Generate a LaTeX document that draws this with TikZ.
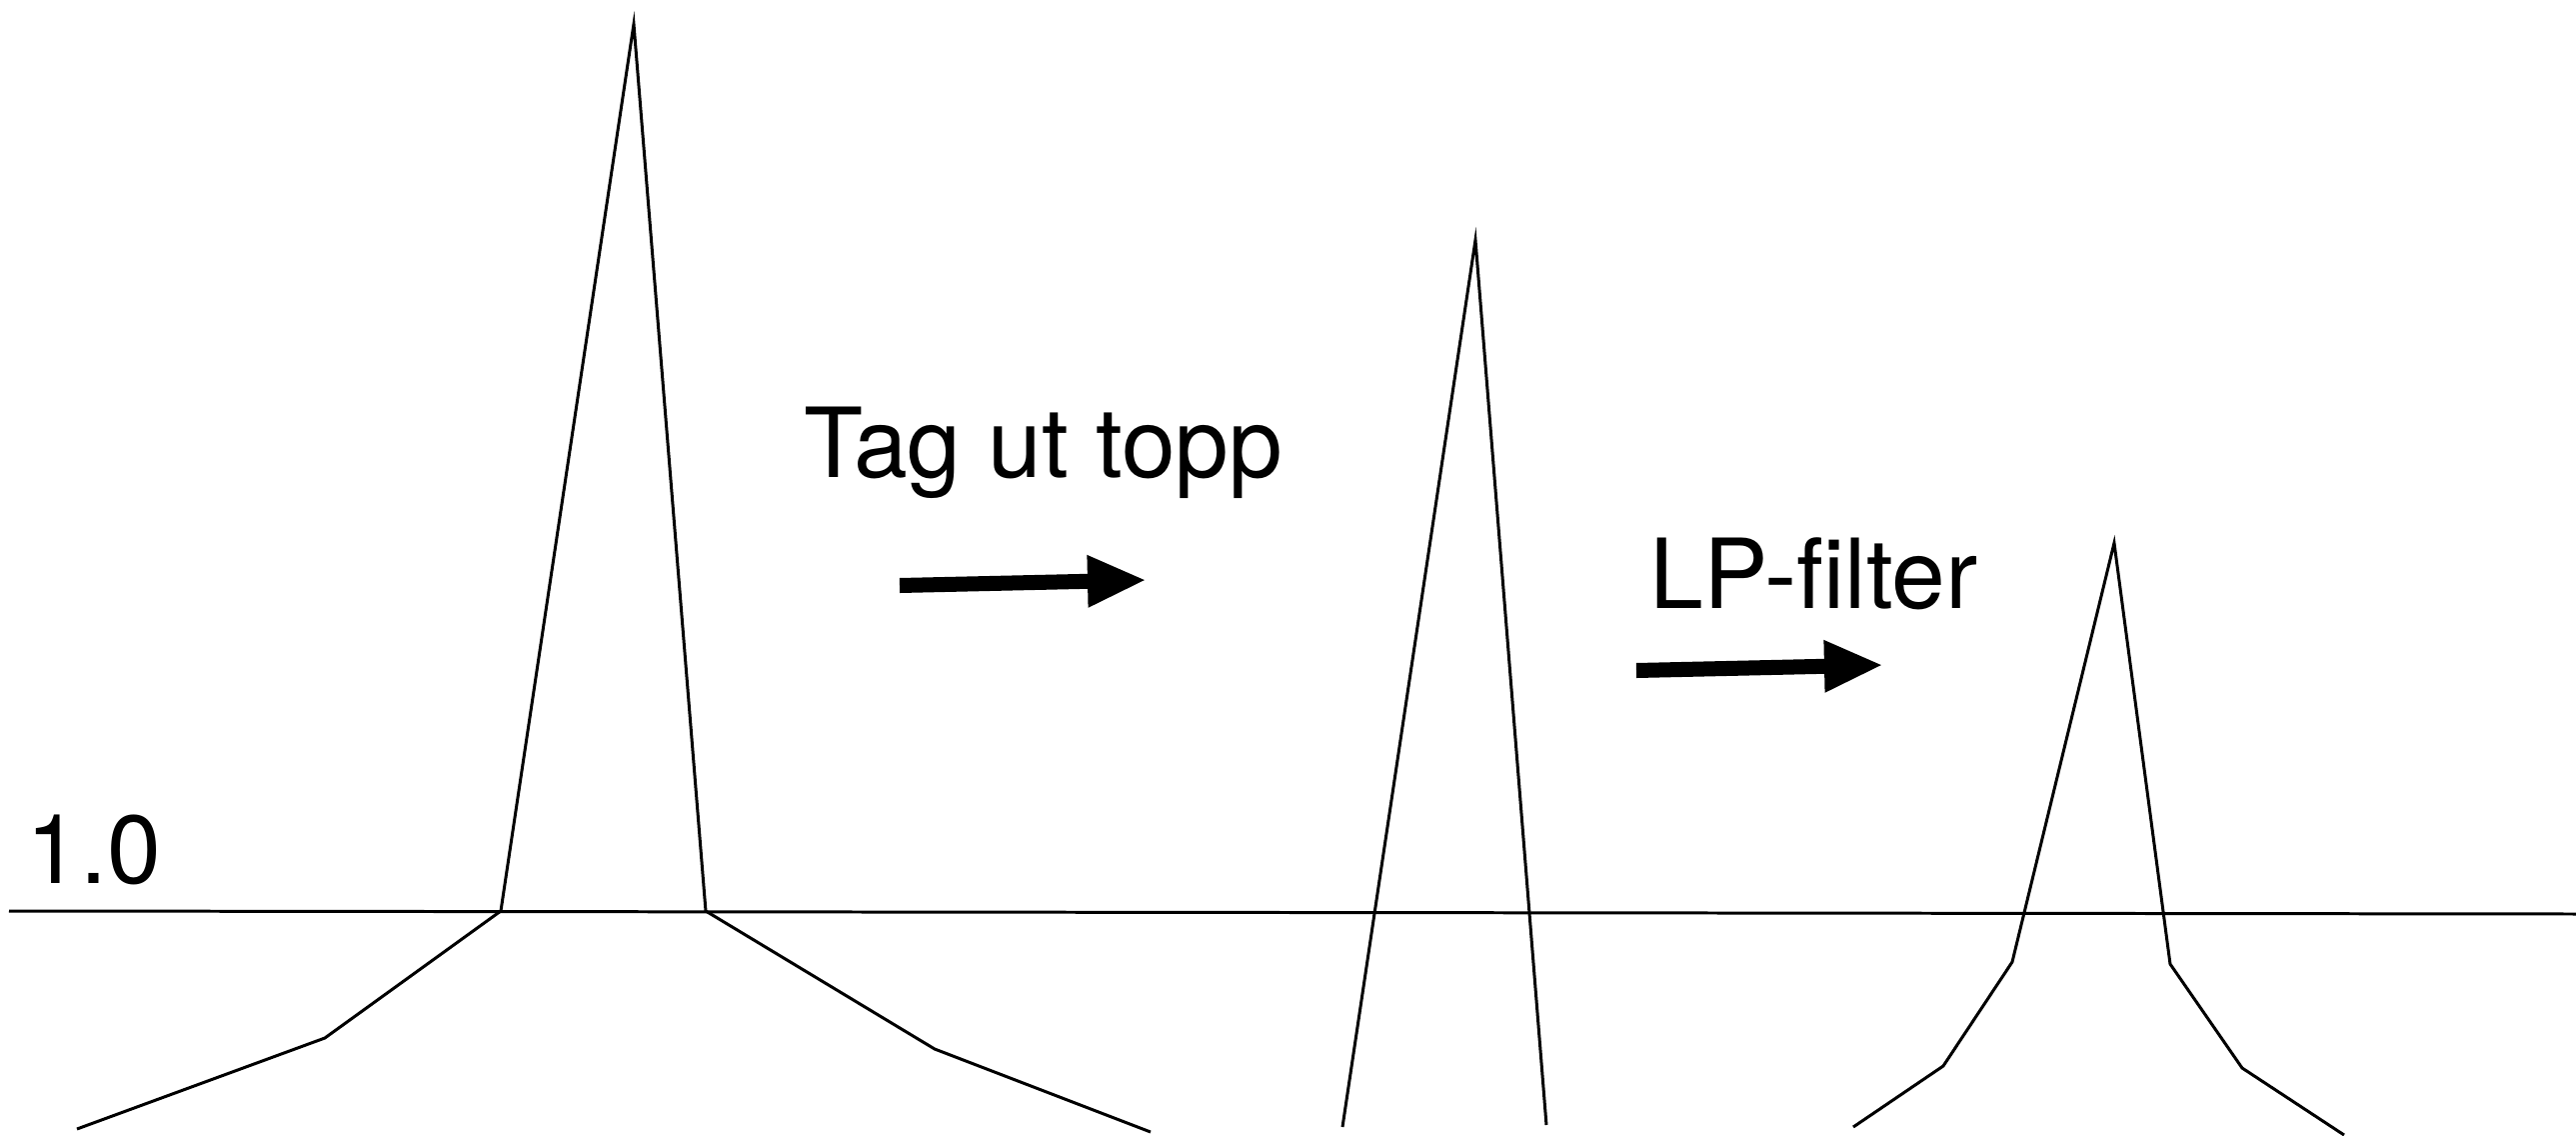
\documentclass[tikz,border=0pt]{standalone}
\usepackage{fontspec}
\setmainfont{TeX Gyre Heros}
\usetikzlibrary{arrows.meta}
\begin{document}
\begin{tikzpicture}[x=0.01cm,y=-0.01cm,
  curve/.style={line width=0.85pt, line join=miter, miter limit=20},
  bigarrow/.style={line width=0.15cm, -{Triangle[length=0.59cm,width=0.48cm]}},
  lbl/.style={anchor=base west, inner sep=0pt, font=\fontsize{27.5}{33}\selectfont}]
\useasboundingbox (0,0) rectangle (2577,1136);

% baseline (level 1.0)
\coordinate (b0) at (9,911);
\coordinate (b1) at (2577,914);
\draw[curve] (b0) -- (b1);
\node[lbl] (one) at (26,883) {1.0};

% peak 1 (original)
\coordinate (p1a) at (77,1129);
\coordinate (p1b) at (325,1038);
\coordinate (p1c) at (501,911);
\coordinate (p1top) at (634,24);
\coordinate (p1d) at (706,911);
\coordinate (p1e) at (935,1049);
\coordinate (p1f) at (1151,1132);
\draw[curve] (p1a) -- (p1b) -- (p1c) -- (p1top) -- (p1d) -- (p1e) -- (p1f);

% arrow 1 and label
\node[lbl] (tag) at (804,477) {Tag ut topp};
\coordinate (a1s) at (900,585.5);
\coordinate (a1e) at (1147,580);
\draw[bigarrow] (a1s) -- (a1e);

% peak 2 (tip removed)
\coordinate (p2a) at (1343,1127);
\coordinate (p2top) at (1476,240);
\coordinate (p2b) at (1547,1125);
\draw[curve] (p2a) -- (p2top) -- (p2b);

% arrow 2 and label
\node[lbl] (lp) at (1650,608) {LP-filter};
\coordinate (a2s) at (1637,670.5);
\coordinate (a2e) at (1884,665);
\draw[bigarrow] (a2s) -- (a2e);

% peak 3 (low-pass filtered)
\coordinate (p3a) at (1854,1127);
\coordinate (p3b) at (1944,1066);
\coordinate (p3c) at (2013,962);
\coordinate (p3top) at (2115,543);
\coordinate (p3d) at (2171,964);
\coordinate (p3e) at (2243,1068);
\coordinate (p3f) at (2345,1135);
\draw[curve] (p3a) -- (p3b) -- (p3c) -- (p3top) -- (p3d) -- (p3e) -- (p3f);
\end{tikzpicture}
\end{document}
